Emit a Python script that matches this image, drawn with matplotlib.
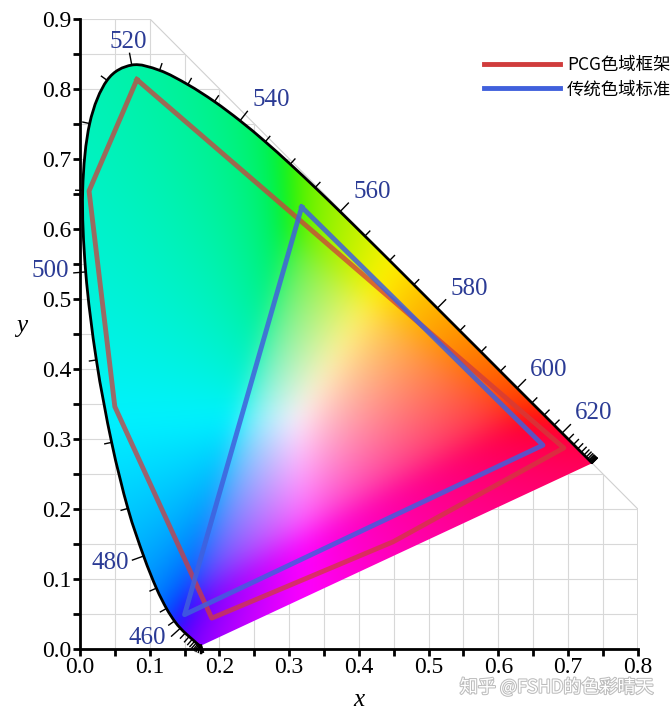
import numpy as np
import matplotlib
matplotlib.use('Agg')
import matplotlib.pyplot as plt
from matplotlib.patches import Polygon, PathPatch
from matplotlib.path import Path
from matplotlib.ticker import MultipleLocator
import matplotlib.patheffects as pe

# CIE 1931 spectral locus, 380-700 nm every 5 nm
wl = np.arange(380, 705, 5)
locus_x = [0.1741, 0.1740, 0.1738, 0.1736, 0.1733, 0.1730, 0.1726, 0.1721, 0.1714, 0.1703,
           0.1689, 0.1669, 0.1644, 0.1611, 0.1566, 0.1510, 0.1440, 0.1355, 0.1241, 0.1096,
           0.0913, 0.0687, 0.0454, 0.0235, 0.0082, 0.0039, 0.0139, 0.0389, 0.0743, 0.1142,
           0.1547, 0.1929, 0.2296, 0.2658, 0.3016, 0.3373, 0.3731, 0.4087, 0.4441, 0.4788,
           0.5125, 0.5448, 0.5752, 0.6029, 0.6270, 0.6482, 0.6658, 0.6801, 0.6915, 0.7006,
           0.7079, 0.7140, 0.7190, 0.7230, 0.7260, 0.7283, 0.7300, 0.7311, 0.7320, 0.7327,
           0.7334, 0.7340, 0.7344, 0.7346, 0.7347]
locus_y = [0.0050, 0.0050, 0.0049, 0.0049, 0.0048, 0.0048, 0.0048, 0.0048, 0.0051, 0.0058,
           0.0069, 0.0086, 0.0109, 0.0138, 0.0177, 0.0227, 0.0297, 0.0399, 0.0578, 0.0868,
           0.1327, 0.2007, 0.2950, 0.4127, 0.5384, 0.6548, 0.7502, 0.8120, 0.8338, 0.8262,
           0.8059, 0.7816, 0.7543, 0.7243, 0.6923, 0.6589, 0.6245, 0.5896, 0.5547, 0.5202,
           0.4866, 0.4544, 0.4242, 0.3965, 0.3725, 0.3514, 0.3340, 0.3197, 0.3083, 0.2993,
           0.2920, 0.2859, 0.2809, 0.2770, 0.2740, 0.2717, 0.2700, 0.2689, 0.2680, 0.2673,
           0.2666, 0.2660, 0.2656, 0.2654, 0.2653]

# wavelength labels and where they sit
label_wl = [460, 480, 500, 520, 540, 560, 580, 600, 620]
label_x = [0.096, 0.043, -0.043, 0.069, 0.274, 0.419, 0.558, 0.672, 0.737]
label_y = [0.016, 0.123, 0.539, 0.867, 0.784, 0.653, 0.514, 0.399, 0.337]

# gamut polygons
pcg_x = [0.0817, 0.013, 0.050, 0.189, 0.449, 0.694]
pcg_y = [0.813, 0.654, 0.346, 0.044, 0.153, 0.287]
std_x = [0.318, 0.150, 0.664]
std_y = [0.631, 0.049, 0.291]

plt.rcParams['font.family'] = ['Liberation Serif', 'DejaVu Serif']
cjk = ['Noto Sans CJK SC', 'DejaVu Sans']


def smooth_path(px, py, closed=False):
    # Catmull-Rom through the points, drawn as cubic Bezier segments
    p = np.column_stack([px, py])
    verts = [p[0]]
    codes = [Path.MOVETO]
    n = len(p)
    for i in range(n - 1):
        p0 = p[max(i - 1, 0)]
        p1 = p[i]
        p2 = p[i + 1]
        p3 = p[min(i + 2, n - 1)]
        c1 = p1 + (p2 - p0) / 6
        c2 = p2 - (p3 - p1) / 6
        verts += [c1, c2, p2]
        codes += [Path.CURVE4] * 3
    if closed:
        verts += [p[0], p[0]]
        codes += [Path.LINETO, Path.CLOSEPOLY]
    return Path(verts, codes)


def blur(img, sigma):
    k = np.arange(-3 * sigma, 3 * sigma + 1)
    k = np.exp(-k ** 2 / (2 * sigma ** 2))
    k /= k.sum()
    pad = len(k) // 2
    out = np.pad(img, ((pad, pad), (pad, pad), (0, 0)), mode='edge')
    out = np.apply_along_axis(lambda v: np.convolve(v, k, mode='valid'), 0, out)
    out = np.apply_along_axis(lambda v: np.convolve(v, k, mode='valid'), 1, out)
    return out


fig = plt.figure(figsize=(6.72, 7.13), dpi=100)
ax = fig.add_axes([0.119, 0.0898, 0.830, 0.884])
ax.set_xlim(0, 0.8)
ax.set_ylim(0, 0.9)

# grid only inside x + y <= 1
region = Polygon([(0, 0), (0, 0.9), (0.1, 0.9), (0.8, 0.2), (0.8, 0)], closed=True,
                 transform=ax.transData, facecolor='none', edgecolor='#d0d0d0', lw=0.8,
                 zorder=1)
ax.add_patch(region)
for g in np.arange(0.05, 0.85, 0.05):
    l = ax.axvline(g, color='#d8d8d8', lw=0.8, zorder=1)
    l.set_clip_path(region)
for g in np.arange(0.05, 0.95, 0.05):
    l = ax.axhline(g, color='#d8d8d8', lw=0.8, zorder=1)
    l.set_clip_path(region)

# chromaticity colours
n = 300
xs = np.linspace(0, 0.8, n)
ys = np.linspace(0, 0.9, n)
gx, gy = np.meshgrid(xs, ys)
gy_safe = np.maximum(gy, 1e-4)
X = gx / gy_safe
Y = np.ones_like(gx)
Z = (1 - gx - gy) / gy_safe
M = np.array([[3.2406, -1.5372, -0.4986],
              [-0.9689, 1.8758, 0.0415],
              [0.0557, -0.2040, 1.0570]])
rgb = np.einsum('ij,jkl->kli', M, np.array([X, Y, Z]))
low = rgb.min(axis=2, keepdims=True)
rgb = rgb - np.minimum(low, 0)
rgb = rgb / np.maximum(rgb.max(axis=2, keepdims=True), 1e-9)
rgb = np.clip(rgb, 0, 1) ** (1 / 2.2)
rgb = np.clip(blur(rgb, 6), 0, 1)
rgb[..., 1] *= 0.95

locus_path = smooth_path(locus_x, locus_y, closed=True)
clip = PathPatch(locus_path, transform=ax.transData, facecolor='none', edgecolor='none')
ax.add_patch(clip)
im = ax.imshow(rgb, origin='lower', extent=[0, 0.8, 0, 0.9], aspect='auto',
               interpolation='bilinear', zorder=2)
im.set_clip_path(clip)

# spectral locus outline
ax.add_patch(PathPatch(smooth_path(locus_x, locus_y), facecolor='none', edgecolor='black',
                       lw=2, zorder=4, capstyle='butt'))

# wavelength ticks along the locus
lx = np.array(locus_x)
ly = np.array(locus_y)
for i, w in enumerate(wl):
    i0 = max(i - 1, 0)
    i1 = min(i + 1, len(wl) - 1)
    dx = lx[i1] - lx[i0]
    dy = ly[i1] - ly[i0]
    norm = np.hypot(dx, dy)
    if norm == 0:
        continue
    nx, ny = -dy / norm, dx / norm
    length = 0.017 if w in label_wl else 0.010
    ax.plot([lx[i], lx[i] + nx * length], [ly[i], ly[i] + ny * length],
            color='black', lw=1, zorder=4, clip_on=False)

for w, tx, ty in zip(label_wl, label_x, label_y):
    ax.text(tx, ty, str(w), color='#2b3b95', fontsize=18, ha='center', va='center',
            zorder=5, clip_on=False)

# gamut outlines
ax.plot(pcg_x + pcg_x[:1], pcg_y + pcg_y[:1], color='#d03c3c', lw=3.5, alpha=0.75,
        zorder=5, label='PCG色域框架')
ax.plot(std_x + std_x[:1], std_y + std_y[:1], color='#4060dc', lw=3.5, alpha=0.85,
        zorder=6, label='传统色域标准')

leg = ax.legend(loc='upper right', bbox_to_anchor=(1.088, 0.966), frameon=False,
                prop={'family': cjk, 'size': 12.5}, handlelength=4.4, handletextpad=0.4,
                labelspacing=0.38)
for h in leg.get_lines():
    h.set_alpha(1)

# axes styling
for s in ['top', 'right']:
    ax.spines[s].set_visible(False)
for s in ['left', 'bottom']:
    ax.spines[s].set_linewidth(2)
    ax.spines[s].set_zorder(7)
ax.xaxis.set_major_locator(MultipleLocator(0.1))
ax.yaxis.set_major_locator(MultipleLocator(0.1))
ax.xaxis.set_minor_locator(MultipleLocator(0.05))
ax.yaxis.set_minor_locator(MultipleLocator(0.05))
ax.xaxis.set_major_formatter(plt.FormatStrFormatter('%.1f'))
ax.yaxis.set_major_formatter(plt.FormatStrFormatter('%.1f'))
ax.tick_params(which='both', direction='out', length=5, width=2, labelsize=17, pad=1)
ax.set_xlabel('x', fontsize=18, style='italic', labelpad=0)
ax.set_ylabel('y', fontsize=18, style='italic', rotation=0, labelpad=0)
ax.xaxis.set_label_coords(0.5, -0.063)
ax.yaxis.set_label_coords(-0.105, 0.495)

# watermark
fig.text(0.972, 0.036, '知乎 @FSHD的色彩晴天', family=cjk, fontsize=13, color='white',
         ha='right', va='center',
         path_effects=[pe.withStroke(linewidth=1.5, foreground='#bdbdbd')])

fig.savefig('out.png', dpi=100)
